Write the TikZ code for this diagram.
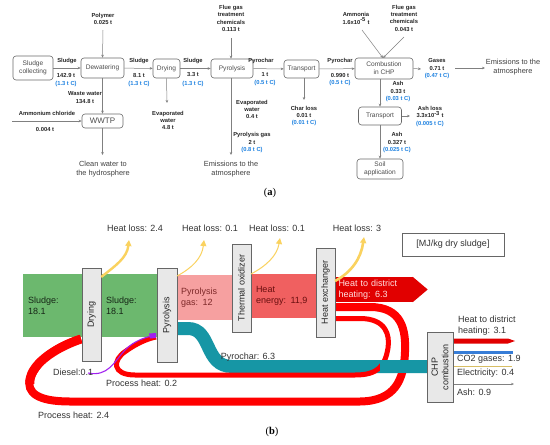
\documentclass[tikz,border=0pt]{standalone}
\usepackage{fontspec}
\setmainfont{Liberation Sans}
\newfontfamily\serifb{Liberation Serif}
\usetikzlibrary{arrows.meta}
\definecolor{tblue}{RGB}{30,130,225}
\definecolor{boxline}{RGB}{105,105,105}
\definecolor{sgreen}{RGB}{108,184,110}
\definecolor{gpink}{RGB}{246,160,160}
\definecolor{henergy}{RGB}{240,96,96}
\definecolor{hred}{RGB}{225,0,0}
\definecolor{lred}{RGB}{255,0,0}
\definecolor{tealb}{RGB}{22,150,165}
\definecolor{yarrow}{RGB}{250,210,95}
\definecolor{gbox}{RGB}{232,232,232}
\definecolor{dieselc}{RGB}{160,32,240}
\definecolor{elec}{RGB}{215,190,100}
\definecolor{co2}{RGB}{55,125,215}
\begin{document}
\begin{tikzpicture}[x=1pt,y=-1pt,
 boxa/.style={draw=boxline, rounded corners=3pt, line width=0.6pt, align=center, inner sep=0pt, font=\fontsize{6.6}{7.8}\selectfont, text=black!70},
 lbl/.style={align=center, font=\fontsize{5.8}{7.3}\selectfont\bfseries, inner sep=0pt, text=black!85},
 bl/.style={lbl, text=tblue},
 big/.style={align=center, font=\fontsize{7.4}{9}\selectfont, inner sep=0pt, text=black!75},
 arr/.style={draw=gray, line width=0.5pt, -{Stealth[length=3pt,width=2.6pt]}},
 ln/.style={draw=gray, line width=0.5pt},
 gbx/.style={draw=gray!80!black, fill=gbox, line width=0.5pt, inner sep=0pt, rotate=90, font=\fontsize{9}{10.5}\selectfont, align=center, text=black!85},
 txb/.style={font=\fontsize{9}{11}\selectfont, align=left, inner sep=0pt, text=black!80},
 flowbox/.style={inner ysep=0pt, align=left, font=\fontsize{9}{11}\selectfont},
 yarr/.style={draw=yarrow, -{Triangle[length=6pt,width=6pt]}},
]
\useasboundingbox (0,0) rectangle (550,445);
\fill[white] (0,0) rectangle (550,445);

% ================= (a) =================
\node[boxa, minimum width=40, minimum height=24] (collect) at (33,68) {Sludge\\collecting};
\node[boxa, minimum width=43, minimum height=20] (dew) at (102.5,68) {Dewatering};
\node[boxa, minimum width=27, minimum height=19] (dry) at (166.5,68.5) {Drying};
\node[boxa, minimum width=42, minimum height=19] (pyr) at (232,68.5) {Pyrolysis};
\node[boxa, minimum width=35, minimum height=18] (tr1) at (301.5,69) {Transport};
\node[boxa, minimum width=58, minimum height=21] (chp) at (384,68.5) {Combustion\\in CHP};
\node[boxa, minimum width=41, minimum height=14] (wwtp) at (102.5,121) {\fontsize{8}{9}\selectfont WWTP};
\node[boxa, minimum width=43, minimum height=18] (tr2) at (380,116) {Transport};
\node[boxa, minimum width=46, minimum height=20] (soil) at (380,169) {Soil\\application};

\coordinate (polyc) at (103,30);
\coordinate (ammc) at (12,121);
\coordinate (cleanc) at (102.5,155);
\coordinate (evapc) at (167,103);
\coordinate (fluec) at (231,38);
\coordinate (emisc) at (231,155);
\coordinate (charc) at (304,100);
\coordinate (ammoc) at (362,30);
\coordinate (flue2c) at (404,37);
\coordinate (chpin) at (383,58);
\coordinate (gasc) at (421,69);
\coordinate (emi2a) at (455,68);
\coordinate (emi2b) at (485,68);
\coordinate (ashlc) at (410,116);

\draw[arr] (collect) -- (dew);
\draw[arr] (dew) -- (dry);
\draw[arr] (dry) -- (pyr);
\draw[arr] (pyr) -- (tr1);
\draw[arr] (tr1) -- (chp);
\draw[arr] (polyc) -- (dew.north);
\draw[arr] (dew.south) -- (wwtp.north);
\draw[arr] (ammc) -- (wwtp.west);
\draw[arr] (wwtp.south) -- (cleanc);
\draw[arr] (dry.south) -- (evapc);
\draw[arr] (fluec) -- (pyr.north -| fluec);
\draw[arr] (pyr.south -| fluec) -- (emisc);
\draw[arr] (tr1.south -| charc) -- (charc);
\draw[arr] (ammoc) -- (chpin);
\draw[arr] (flue2c) -- (chpin);
\draw[arr] (chp.east) -- (gasc);
\draw[arr] (emi2a) -- (emi2b);
\draw[arr] (chp.south -| tr2) -- (tr2.north);
\draw[arr] (tr2.east) -- (ashlc);
\draw[arr] (tr2.south) -- (soil.north);

\node[lbl] (l1) at (103,19) {Polymer\\0.025 t};
\node[lbl] (l2) at (67,61) {Sludge};
\node[lbl] (l3) at (66,75) {142.9 t};
\node[bl] (l4) at (66,84) {(1.3 t C)};
\node[lbl] (l5) at (139,61) {Sludge};
\node[lbl] (l6) at (139,75) {8.1 t};
\node[bl] (l7) at (139,84) {(1.3 t C)};
\node[lbl] (l8) at (85,97.5) {Waste water\\134.8 t};
\node[lbl] (l9) at (47,113) {Ammonium chloride};
\node[lbl] (l10) at (45,129) {0.004 t};
\node[big] (l11) at (103,169.5) {Clean water to\\the hydrosphere};
\node[lbl] (l12) at (168,120.5) {Evaporated\\water\\4.8 t};
\node[lbl] (l13) at (193,61) {Sludge};
\node[lbl] (l14) at (193,75) {3.3 t};
\node[bl] (l15) at (193,84) {(1.3 t C)};
\node[lbl] (l16) at (231,18.5) {Flue gas\\treatment\\chemicals\\0.113 t};
\node[lbl] (l17) at (261,61) {Pyrochar};
\node[lbl] (l18) at (265,75) {1 t};
\node[bl] (l19) at (265,83) {(0.5 t C)};
\node[lbl] (l20) at (252,109.5) {Evaporated\\water\\0.4 t};
\node[lbl] (l21) at (252,138.5) {Pyrolysis gas\\2 t};
\node[bl] (l22) at (252,149.5) {(0.8 t C)};
\node[big] (l23) at (231,169.5) {Emissions to the\\atmosphere};
\node[lbl] (l24) at (304,112) {Char loss\\0.01 t};
\node[bl] (l25) at (304,123) {(0.01 t C)};
\node[lbl] (l26) at (340,61) {Pyrochar};
\node[lbl] (l27) at (340,75) {0.990 t};
\node[bl] (l28) at (340,83) {(0.5 t C)};
\node[lbl] (l29) at (356,18.5) {Ammonia\\1.6x10$^{\textbf{-5}}$ t};
\node[lbl] (l30) at (404,18) {Flue gas\\treatment\\chemicals\\0.043 t};
\node[lbl] (l31) at (437,64.5) {Gases\\0.71 t};
\node[bl] (l32) at (437,75.5) {(0.47 t C)};
\node[big] (l33) at (513,67.5) {Emissions to the\\atmosphere};
\node[lbl] (l34) at (398,87.5) {Ash\\0.33 t};
\node[bl] (l35) at (398,98.5) {(0.03 t C)};
\node[lbl] (l36) at (430,112) {Ash loss\\3.3x10$^{\textbf{-3}}$ t};
\node[bl] (l37) at (430,123.5) {(0.005 t C)};
\node[lbl] (l38) at (397,138.5) {Ash\\0.327 t};
\node[bl] (l39) at (397,149.5) {(0.025 t C)};
\node[font=\serifb\fontsize{10.5}{12}\selectfont, inner sep=0pt] (capa) at (270,193) {(\textbf{a})};

% ================= (b) =================
\node[fill=sgreen, minimum height=63, text width=49, inner xsep=5, flowbox, text=black!80!sgreen] (sl1) at (52.5,305.5) {Sludge:\\18.1};
\node[fill=sgreen, minimum height=63, text width=46, inner xsep=5, flowbox, text=black!80!sgreen] (sl2) at (129,305.5) {Sludge:\\18.1};
\node[fill=gpink, minimum height=45, text width=47, inner xsep=4, flowbox, text={rgb,255:red,125;green,40;blue,40}] (pg) at (204.5,297.5) {Pyrolysis\\gas: 12};
\node[fill=henergy, minimum height=44, text width=55, inner xsep=5, flowbox, text={rgb,255:red,105;green,15;blue,15}] (he) at (283.5,296) {Heat\\energy: 11,9};
\node[fill=hred, minimum height=25, text width=70, inner xsep=4, flowbox, text=white!88!red] (h63) at (373.5,289.5) {Heat to district\\heating: 6.3};
\fill[hred] (h63.north east) -- ([xshift=15pt]h63.east) -- (h63.south east) -- cycle;

% pyrochar band
\coordinate (pcs) at (177,328.5);
\draw[tealb, line width=13pt] (pcs) -- (188,328.5) .. controls (212,328.5) and (204,366.5) .. (232,366.5) -- (427,366.5);

% process heat loops (red)
\draw[lred, line width=5pt] (335,318.5) -- (360,318.5) .. controls (386,318.5) and (390,335) .. (388,348) .. controls (385,366) and (378,375) .. (355,375) -- (135,375) .. controls (112,375) and (112,360) .. (126,351) .. controls (136,344) and (146,339) .. (156,337);
\draw[lred, line width=8pt] (335,307) -- (370,307) .. controls (402,307) and (406,330) .. (405,352) .. controls (404,380) and (395,401) .. (360,401.5) -- (70,401.5) .. controls (38,401.5) and (26,393) .. (30,378);
\fill[lred] (28,380) .. controls (26,362) and (55,342) .. (80,335) -- (82,342) .. controls (62,348) and (40,362) .. (34,380) -- cycle;
\draw[lred, line width=9pt] (30,384) .. controls (28,366) and (54,348) .. (81,339);
% pyrochar passes over the loops
\draw[tealb, line width=13pt] (380,366.5) -- (427,366.5);

% diesel
\coordinate (dieselc) at (88,373);
\draw[dieselc, line width=1.1pt] (dieselc) .. controls (108,377) and (114,362) .. (125,350) .. controls (134,341) and (145,337) .. (155,335.5);
\fill[dieselc] (149,333.5) -- (156,333) -- (156,338) -- (150,338.5) -- cycle;

% CHP outputs (drawn before the box)
\coordinate (o1) at (508,341);
\coordinate (o2) at (513,352);
\coordinate (o3) at (512,366.5);
\coordinate (o4) at (514,384);
\fill[hred] (452,338.5) -- (508,338.5) -- (515,341) -- (508,343.5) -- (452,343.5) -- cycle;
\draw[co2, line width=3pt] (452,352) -- (o2);
\draw[elec, line width=0.8pt] (452,366.5) -- (o3);
\draw[gray, line width=0.5pt, -{Stealth[length=3pt,width=2.4pt]}] (452,384) -- (o4);

% gray unit boxes
\node[gbx, minimum width=93, minimum height=19] (dryb) at (91.5,314.5) {Drying};
\node[gbx, minimum width=94, minimum height=20] (pyrb) at (167,315) {Pyrolysis};
\node[gbx, minimum width=88, minimum height=19] (tox) at (241.5,288) {Thermal oxidizer};
\node[gbx, minimum width=89, minimum height=19] (hex) at (325.5,292.5) {Heat exchanger};
\node[gbx, minimum width=70, minimum height=26] (chpb) at (440,367) {CHP\\combustion};

% heat losses
\coordinate (hl1) at (129,240);
\coordinate (hl2) at (204,240);
\coordinate (hl3) at (280,238);
\coordinate (hl4) at (364,237);
\draw[yarr, line width=2.4pt] (dryb.south east |- 0,277) .. controls (115,266) and (127,258) .. (hl1);
\draw[yarr, line width=1pt] (177,276) .. controls (192,268) and (202,258) .. (hl2);
\draw[yarr, line width=1pt] (251,274) .. controls (266,266) and (277,256) .. (hl3);
\draw[yarr, line width=2.6pt] (335,281) .. controls (352,272) and (361,258) .. (hl4);
\node[txb] (hlt1) at (135,228) {Heat loss: 2.4};
\node[txb] (hlt2) at (210,228) {Heat loss: 0.1};
\node[txb] (hlt3) at (277,228) {Heat loss: 0.1};
\node[txb] (hlt4) at (357,228) {Heat loss: 3};

% unit box
\node[draw=gray!80!black, line width=0.6pt, minimum width=102, minimum height=23, inner sep=0pt, font=\fontsize{9}{11}\selectfont, text=black!80] (unit) at (453,244.5) {[MJ/kg dry sludge]};

\node[txb, anchor=west] (t31) at (458,326) {Heat to district\\heating: 3.1};
\node[txb, anchor=west] (tco2) at (457,359) {CO2 gases: 1.9};
\node[txb, anchor=west] (tel) at (457,373) {Electricity: 0.4};
\node[txb, anchor=west] (tash) at (457,392) {Ash: 0.9};

% flow labels
\node[txb] (tpc) at (248,357) {Pyrochar: 6.3};
\node[txb, anchor=west] (tdz) at (53,372) {Diesel:0.1};
\node[txb, anchor=west] (tph2) at (106,383) {Process heat: 0.2};
\node[txb, anchor=west] (tph24) at (38,415) {Process heat: 2.4};
\node[font=\serifb\fontsize{10.5}{12}\selectfont, inner sep=0pt] (capb) at (272,432) {(\textbf{b})};
\end{tikzpicture}
\end{document}
